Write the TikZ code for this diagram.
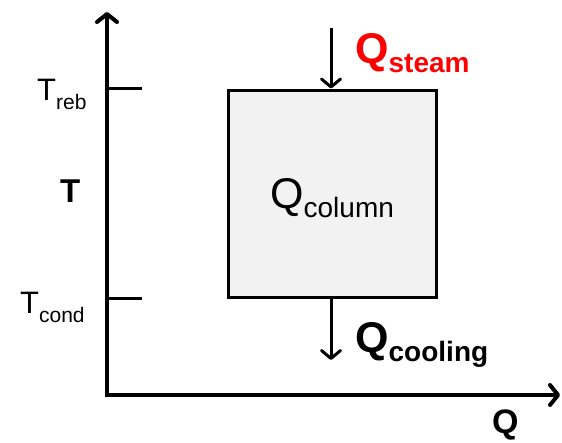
\documentclass[tikz,border=0pt]{standalone}
\usepackage{fontspec}
\setmainfont{Liberation Sans}
\usetikzlibrary{arrows.meta, positioning}
\definecolor{steamred}{RGB}{255,0,0}
\definecolor{boxgray}{RGB}{242,242,242}

\newcommand{\bigsub}[4]{{\fontsize{#1}{#1}\selectfont #3}{\fontsize{#2}{#2}\selectfont\raisebox{-9pt}{#4}}}

\begin{document}
\begin{tikzpicture}[x=1pt, y=-1pt,
  axis/.style={line width=4pt, {Straight Barb[length=8pt,width=20pt,round,line width=4pt]}-{Straight Barb[length=8pt,width=20pt,round,line width=4pt]}},
  flow/.style={line width=3pt, -{Straight Barb[length=8pt,width=19pt,round,line width=3pt]}},
  tickmark/.style={line width=3.5pt},
  lbl/.style={inner sep=0pt, anchor=base west}]
  \useasboundingbox (0,0) rectangle (562,442);

  % axes
  \coordinate (origin) at (107,395);
  \coordinate (ytip) at (107,12);
  \coordinate (xtip) at (560,395);
  \draw[axis] (ytip) -- (origin) -- (xtip);

  % column box
  \node[draw, line width=3pt, fill=boxgray, minimum width=208pt, minimum height=207pt, inner sep=0pt] (column) at (332,193.5) {};
  \node[lbl] (qcol) at (270,208) {\bigsub{43}{28}{Q}{column}};

  % temperature ticks
  \draw[tickmark] (origin |- column.north) -- ++(35,0) coordinate (reb);
  \draw[tickmark] (origin |- column.south) -- ++(35,0) coordinate (cond);
  \node[lbl] (treb) at (37,100) {\bigsub{31}{21}{T}{reb}};
  \node[lbl] (tcond) at (20,313) {\bigsub{31}{21}{T}{cond}};
  \node[lbl] (tlab) at (60,202) {\fontsize{33}{33}\selectfont\bfseries T};
  \node[lbl] (qlab) at (492,433) {\fontsize{34}{34}\selectfont\bfseries Q};

  % heat flows
  \coordinate (steamin) at (331,28);
  \coordinate (coolout) at (331,360);
  \draw[flow] (steamin) -- (steamin |- column.north);
  \draw[flow] (coolout |- column.south) -- (coolout);
  \node[lbl, text=steamred] (qsteam) at (355,63) {\bfseries\bigsub{43}{28}{Q}{steam}};
  \node[lbl] (qcool) at (355,352) {\bfseries\bigsub{43}{28}{Q}{cooling}};
\end{tikzpicture}
\end{document}
